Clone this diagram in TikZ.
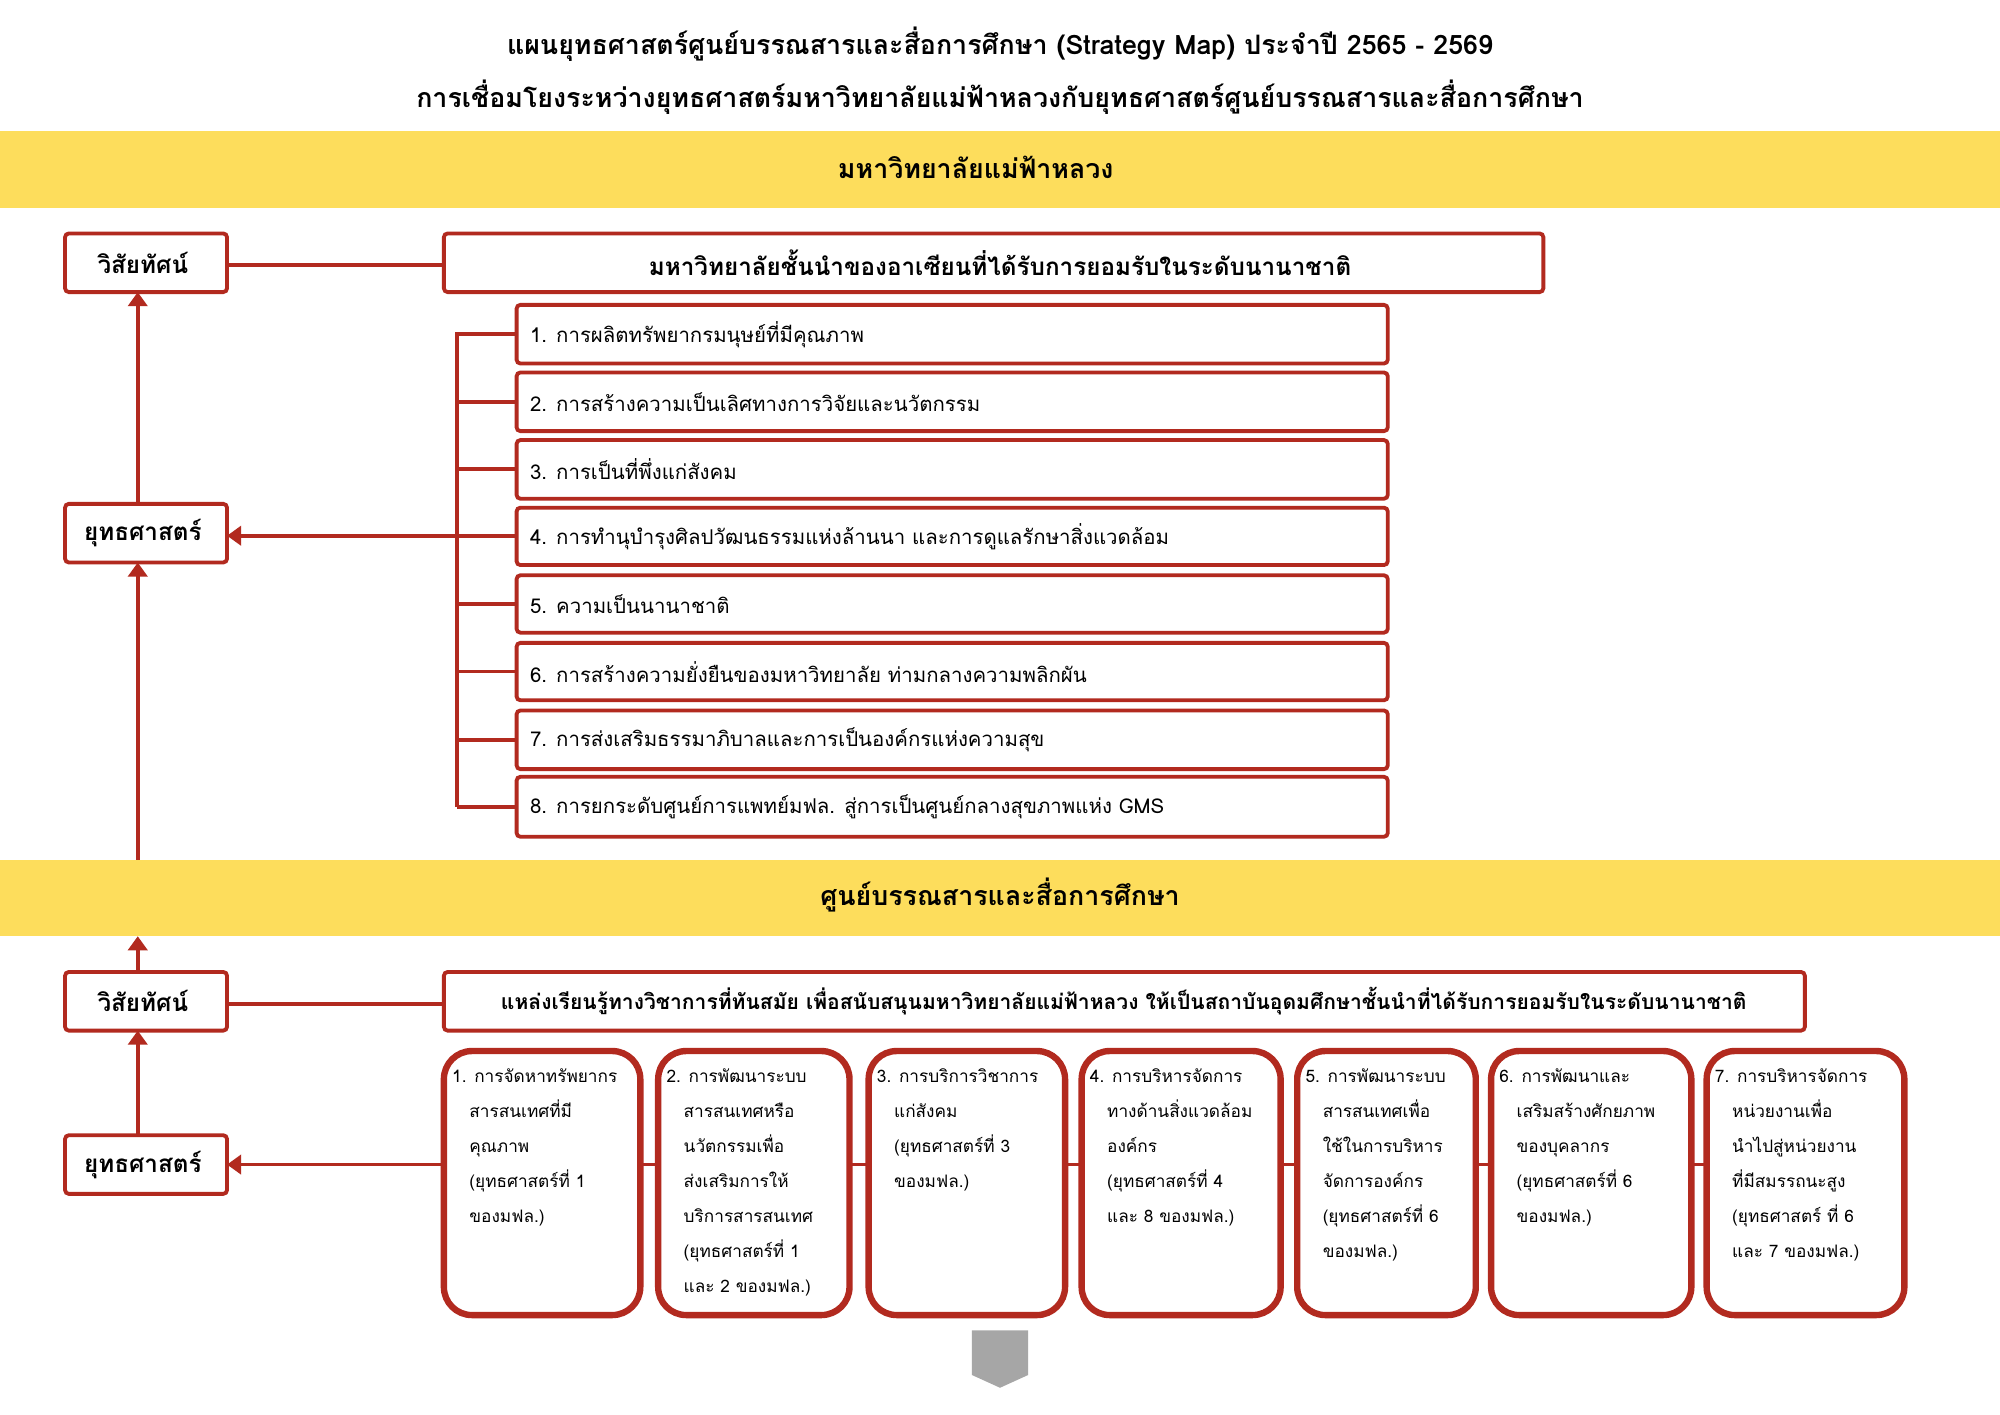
\documentclass[tikz,border=0pt]{standalone}
\usepackage{fontspec}
\setmainfont[Script=Thai]{Loma}
\usetikzlibrary{arrows.meta,shapes.geometric}
\definecolor{dred}{HTML}{B22A1F}
\definecolor{band}{HTML}{FDDD5C}
\tikzset{
 x=1pt,y=-1pt,
 rbox/.style={draw=dred,line width=3pt,rounded corners=3pt,fill=white,inner sep=0pt},
 conn/.style={draw=dred,line width=3pt},
 arr/.style={conn,-{Triangle[length=11pt,width=15pt]}},
 tbig/.style={font=\fontsize{19}{22}\selectfont\bfseries},
 ttitle/.style={font=\fontsize{21}{24}\selectfont\bfseries},
 titem/.style={font=\fontsize{16}{18}\selectfont,anchor=west},
 tcol/.style={font=\fontsize{13.5}{27.5}\selectfont,anchor=north west,align=left},
 col/.style={draw=dred,line width=5pt,rounded corners=22pt,fill=white},
}
\begin{document}
\begin{tikzpicture}
\useasboundingbox (0,0) rectangle (1568,1109);
\fill[white] (0,0) rectangle (1568,1109);
\node[ttitle] (t1) at (784,35) {แผนยุทธศาสตร์ศูนย์บรรณสารและสื่อการศึกษา (Strategy Map) ประจำปี 2565 - 2569};
\node[ttitle] (t2) at (784,76) {การเชื่อมโยงระหว่างยุทธศาสตร์มหาวิทยาลัยแม่ฟ้าหลวงกับยุทธศาสตร์ศูนย์บรรณสารและสื่อการศึกษา};
\fill[band] (0,103) rectangle (1568,163);
\node[ttitle] (b1) at (765,131) {มหาวิทยาลัยแม่ฟ้าหลวง};
\fill[band] (0,674) rectangle (1568,734);
\node[ttitle] (b2) at (784,702) {ศูนย์บรรณสารและสื่อการศึกษา};
% top section
\draw[rbox] (51,183) rectangle (178,229); \node[tbig] (v1) at (112,206) {วิสัยทัศน์};
\draw[rbox] (348,183) rectangle (1210,229); \node[tbig] (vt1) at (784,206) {มหาวิทยาลัยชั้นนำของอาเซียนที่ได้รับการยอมรับในระดับนานาชาติ};
\draw[conn] (178,208) -- (348,208);
\draw[rbox] (51,395) rectangle (178,441); \node[tbig] (s1) at (112,418) {ยุทธศาสตร์};
\draw[arr] (108,395) -- (108,229);
\draw[arr] (108,674) -- (108,441);
\foreach \i/\a/\b/\t in {
1/239/285/{1. การผลิตทรัพยากรมนุษย์ที่มีคุณภาพ},
2/292/338/{2. การสร้างความเป็นเลิศทางการวิจัยและนวัตกรรม},
3/345/391/{3. การเป็นที่พึ่งแก่สังคม},
4/398/443/{4. การทำนุบำรุงศิลปวัฒนธรรมแห่งล้านนา และการดูแลรักษาสิ่งแวดล้อม},
5/451/496/{5. ความเป็นนานาชาติ},
6/504/549/{6. การสร้างความยั่งยืนของมหาวิทยาลัย ท่ามกลางความพลิกผัน},
7/557/603/{7. การส่งเสริมธรรมาภิบาลและการเป็นองค์กรแห่งความสุข},
8/609/656/{8. การยกระดับศูนย์การแพทย์มฟล. สู่การเป็นศูนย์กลางสุขภาพแห่ง GMS}}{
 \draw[rbox] (405,\a) rectangle (1088,\b);
 \node[titem] (i\i) at (412,{(\a+\b)/2}) {\t};
 \draw[conn] (358,{(\a+\b)/2}) -- (405,{(\a+\b)/2});
}
\draw[conn] (358,260.5) -- (358,632.5);
\draw[arr] (358,420) -- (178,420);
% bottom section
\draw[arr] (108,762) -- (108,734);
\draw[rbox] (51,762) rectangle (178,808); \node[tbig] (v2) at (112,785) {วิสัยทัศน์};
\draw[rbox] (348,762) rectangle (1415,808); \node[font=\fontsize{16.5}{20}\selectfont\bfseries] (vt2) at (881,785) {แหล่งเรียนรู้ทางวิชาการที่ทันสมัย เพื่อสนับสนุนมหาวิทยาลัยแม่ฟ้าหลวง ให้เป็นสถาบันอุดมศึกษาชั้นนำที่ได้รับการยอมรับในระดับนานาชาติ};
\draw[conn] (178,787) -- (348,787);
\draw[rbox] (51,890) rectangle (178,936); \node[tbig] (s2) at (112,913) {ยุทธศาสตร์};
\draw[arr] (108,890) -- (108,808);
\draw[conn] (348,913) -- (1493,913);
\draw[arr] (350,913) -- (178,913);
\foreach \i/\l/\r/\t in {
1/348/502/{1. การจัดหาทรัพยากร\\\quad สารสนเทศที่มี\\\quad คุณภาพ\\\quad (ยุทธศาสตร์ที่ 1\\\quad ของมฟล.)},
2/516/666/{2. การพัฒนาระบบ\\\quad สารสนเทศหรือ\\\quad นวัตกรรมเพื่อ\\\quad ส่งเสริมการให้\\\quad บริการสารสนเทศ\\\quad (ยุทธศาสตร์ที่ 1\\\quad และ 2 ของมฟล.)},
3/681/835/{3. การบริการวิชาการ\\\quad แก่สังคม\\\quad (ยุทธศาสตร์ที่ 3\\\quad ของมฟล.)},
4/848/1004/{4. การบริหารจัดการ\\\quad ทางด้านสิ่งแวดล้อม\\\quad องค์กร\\\quad (ยุทธศาสตร์ที่ 4\\\quad และ 8 ของมฟล.)},
5/1017/1157/{5. การพัฒนาระบบ\\\quad สารสนเทศเพื่อ\\\quad ใช้ในการบริหาร\\\quad จัดการองค์กร\\\quad (ยุทธศาสตร์ที่ 6\\\quad ของมฟล.)},
6/1169/1326/{6. การพัฒนาและ\\\quad เสริมสร้างศักยภาพ\\\quad ของบุคลากร\\\quad (ยุทธศาสตร์ที่ 6\\\quad ของมฟล.)},
7/1338/1493/{7. การบริหารจัดการ\\\quad หน่วยงานเพื่อ\\\quad นำไปสู่หน่วยงาน\\\quad ที่มีสมรรถนะสูง\\\quad (ยุทธศาสตร์ ที่ 6\\\quad และ 7 ของมฟล.)}}{
 \draw[col] (\l,824) rectangle (\r,1031);
 \node[tcol] (c\i) at (\l+3,834) {\t};
}
\fill[gray!70] (762,1043) -- (806,1043) -- (806,1078) -- (784,1088) -- (762,1078) -- cycle;
\end{tikzpicture}
\end{document}
